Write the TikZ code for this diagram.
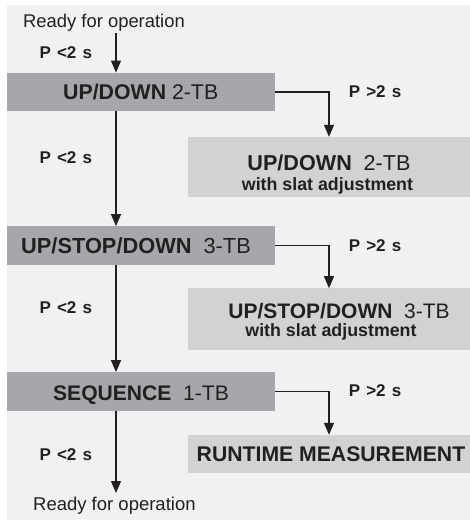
\documentclass[tikz,border=0pt]{standalone}
\usepackage{fontspec}
\setmainfont{Liberation Sans}
\usetikzlibrary{arrows.meta}
\definecolor{bgc}{HTML}{F0F1F3}
\definecolor{darkbox}{HTML}{A6A7AA}
\definecolor{lightbox}{HTML}{D1D2D4}
\definecolor{ink}{HTML}{231F20}
\newcommand\setfs[1]{\fontsize{#1}{#1}\selectfont}
\newcommand\plab[1]{\setfs{17}\bfseries P\hspace{0.36em}#1\hspace{0.36em}s}
\begin{document}
\begin{tikzpicture}[x=1pt,y=-1pt,
  dbox/.style={fill=darkbox,draw=none,inner sep=0pt,minimum width=268pt,minimum height=38.4pt},
  lbox/.style={fill=lightbox,draw=none,inner sep=0pt,minimum width=282pt},
  txt/.style={inner sep=0pt,anchor=base,text=ink},
  arr/.style={draw=ink,line width=1.3pt,-{Triangle[length=12pt,width=10pt]}}]
\useasboundingbox (0,0) rectangle (470,520);
\fill[white] (0,0) rectangle (470,520);
\fill[bgc] (7,5) rectangle (470,520);
% boxes
\node[dbox] (b1) at (141,92) {};
\node[dbox] (b2) at (141,245.5) {};
\node[dbox] (b3) at (141,391.5) {};
\node[lbox,minimum height=60pt] (l1) at (329,167) {};
\node[lbox,minimum height=61.7pt] (l2) at (329,319.2) {};
\node[lbox,minimum height=38pt] (l3) at (329,454) {};
% texts
\node[txt] (r1) at (104,27.3) {\setfs{18.4}Ready for operation};
\node[txt] (r2) at (114.4,510) {\setfs{18.5}Ready for operation};
\node[txt] (t1) at (140.7,99.3) {\setfs{21.3}\textbf{UP/DOWN} 2-TB};
\node[txt] (t2) at (136,253.3) {\setfs{21.8}\textbf{UP/STOP/DOWN}\hspace{0.55em}3-TB};
\node[txt] (t3) at (141,400) {\setfs{21.1}\textbf{SEQUENCE}\hspace{0.55em}1-TB};
\node[txt] (u1) at (329,170.7) {\setfs{21.6}\textbf{UP/DOWN}\hspace{0.55em}2-TB};
\node[txt] (v1) at (327.5,190) {\setfs{17.8}\bfseries with slat adjustment};
\node[txt] (u2) at (339,318.3) {\setfs{21}\textbf{UP/STOP/DOWN}\hspace{0.55em}3-TB};
\node[txt] (v2) at (331,336.7) {\setfs{17.8}\bfseries with slat adjustment};
\node[txt] (u3) at (331,461.7) {\setfs{21.2}\bfseries RUNTIME MEASUREMENT};
% P labels
\node[txt] (p1) at (65.8,58.8) {\plab{<2}};
\node[txt] (p2) at (65.8,163.3) {\plab{<2}};
\node[txt] (p3) at (65.8,313.3) {\plab{<2}};
\node[txt] (p4) at (65.8,460) {\plab{<2}};
\node[txt] (q1) at (375,97.5) {\plab{>2}};
\node[txt] (q2) at (375,251) {\plab{>2}};
\node[txt] (q3) at (375,396.7) {\plab{>2}};
% connectors
\coordinate (a0) at (116,33);
\coordinate (a9) at (116,493);
\draw[arr] (a0) -- (a0 |- b1.north);
\draw[arr] (a0 |- b1.south) -- (a0 |- b2.north);
\draw[arr] (a0 |- b2.south) -- (a0 |- b3.north);
\draw[arr] (a0 |- b3.south) -- (a9);
\draw[arr] (b1.east) -| (l1.north);
\draw[arr] (b2.east) -| (l2.north);
\draw[arr] (b3.east) -| (l3.north);
\end{tikzpicture}
\end{document}
